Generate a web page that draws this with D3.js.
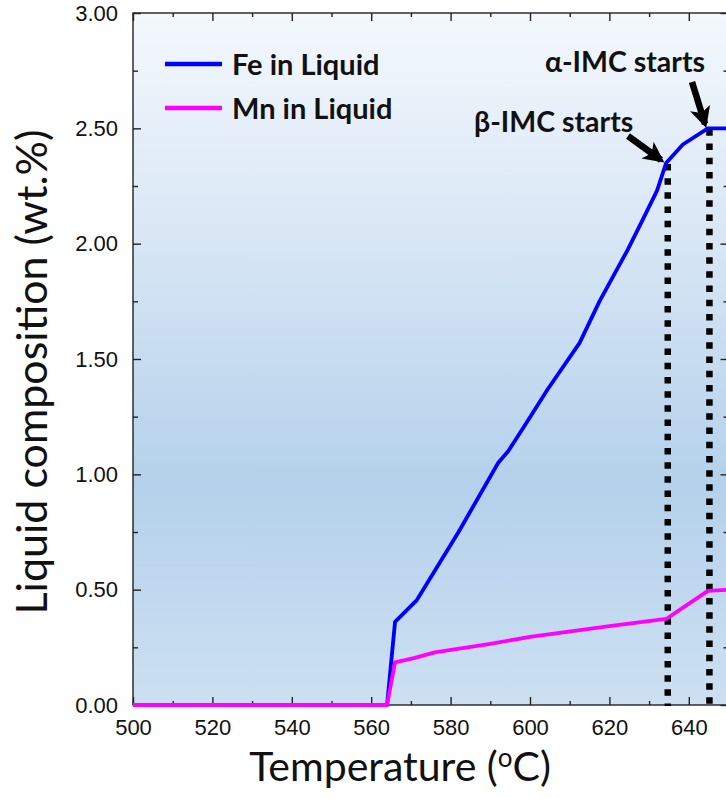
<!DOCTYPE html>
<html lang="en">
<head>
<meta charset="UTF-8">
<title>Liquid composition</title>
<style>
  body { margin: 0; background: #fff; }
  svg { display: block; }
  .axis path, .axis line { stroke: #222; stroke-width: 1.4px; }
</style>
</head>
<body>
<svg width="726" height="798"></svg>
<script src="https://d3js.org/d3.v7.min.js"></script>
<script>
// temperature (C) / wt.%
var feTemp = [500, 564, 566, 571.5, 582, 592, 594.5, 599, 604.5, 612.5, 617.5, 624.5, 628, 632, 634.3, 638.5, 644.8, 650];
var feVal  = [0, 0, 0.36, 0.455, 0.75, 1.05, 1.10, 1.22, 1.37, 1.57, 1.75, 1.97, 2.09, 2.23, 2.35, 2.43, 2.50, 2.50];
var mnTemp = [500, 564, 566, 571, 576, 590, 600, 620, 634.3, 644.8, 650];
var mnVal  = [0, 0, 0.185, 0.204, 0.228, 0.265, 0.295, 0.342, 0.373, 0.495, 0.50];
var xTicks = [500, 520, 540, 560, 580, 600, 620, 640];
var yTicks = [0, 0.5, 1.0, 1.5, 2.0, 2.5, 3.0];
var seriesNames = ["Fe in Liquid", "Mn in Liquid"];
var seriesColors = ["#0000ff", "#ff00ff"];
var markers = [
  { name: "\u03b2-IMC starts", temp: 634.7, value: 2.35 },
  { name: "\u03b1-IMC starts", temp: 645.2, value: 2.50 }
];

var pLeft = 133, pRight = 728.5, pTop = 13, pBottom = 705;
var svg = d3.select("svg");

var x = d3.scaleLinear().domain([500, 650]).range([pLeft, pRight]);
var y = d3.scaleLinear().domain([0, 3]).range([pBottom, pTop]);

// background gradient
var defs = svg.append("defs");
var grad = defs.append("linearGradient").attr("id", "bg")
  .attr("x1", 0).attr("y1", 0).attr("x2", 0).attr("y2", 1);
grad.append("stop").attr("offset", "0%").attr("stop-color", "#f4f8fd");
grad.append("stop").attr("offset", "35%").attr("stop-color", "#d6e5f4");
grad.append("stop").attr("offset", "68%").attr("stop-color", "#b4d1eb");
grad.append("stop").attr("offset", "100%").attr("stop-color", "#cde0f2");

var mk = defs.append("marker").attr("id", "arr")
  .attr("viewBox", "0 0 10 10").attr("refX", 8).attr("refY", 5)
  .attr("markerWidth", 3.2).attr("markerHeight", 3.2)
  .attr("markerUnits", "strokeWidth").attr("orient", "auto");
mk.append("path").attr("d", "M0,0 L10,5 L0,10 L2.5,5 Z").attr("fill", "#000");

svg.append("rect")
  .attr("x", pLeft).attr("y", pTop)
  .attr("width", pRight - pLeft).attr("height", pBottom - pTop)
  .attr("fill", "url(#bg)");

// axes: major + minor ticks, all pointing inward
var minorX = d3.range(510, 650, 20);
var minorY = d3.range(0.25, 3, 0.5);

function noDomain(g) { g.select(".domain").remove(); }
function tickFont(g) {
  g.selectAll("text")
    .attr("font-family", "'Liberation Sans', Arial, sans-serif")
    .attr("font-size", 22).attr("fill", "#111");
}

svg.append("g").attr("class", "axis").attr("transform", "translate(0," + pBottom + ")")
  .call(d3.axisBottom(x).tickValues(xTicks).tickSize(-8).tickPadding(14).tickFormat(d3.format("d")))
  .call(noDomain).call(tickFont);
svg.append("g").attr("class", "axis").attr("transform", "translate(0," + pBottom + ")")
  .call(d3.axisBottom(x).tickValues(minorX).tickSize(-4).tickFormat(""))
  .call(noDomain);
svg.append("g").attr("class", "axis").attr("transform", "translate(0," + pTop + ")")
  .call(d3.axisTop(x).tickValues(xTicks).tickSize(-8).tickFormat(""))
  .call(noDomain);
svg.append("g").attr("class", "axis").attr("transform", "translate(0," + pTop + ")")
  .call(d3.axisTop(x).tickValues(minorX).tickSize(-4).tickFormat(""))
  .call(noDomain);

svg.append("g").attr("class", "axis").attr("transform", "translate(" + pLeft + ",0)")
  .call(d3.axisLeft(y).tickValues(yTicks).tickSize(-8).tickPadding(15).tickFormat(d3.format(".2f")))
  .call(noDomain).call(tickFont);
svg.append("g").attr("class", "axis").attr("transform", "translate(" + pLeft + ",0)")
  .call(d3.axisLeft(y).tickValues(minorY).tickSize(-5).tickFormat(""))
  .call(noDomain);
svg.append("g").attr("class", "axis").attr("transform", "translate(" + pRight + ",0)")
  .call(d3.axisRight(y).tickValues(yTicks).tickSize(-8).tickFormat(""))
  .call(noDomain);
svg.append("g").attr("class", "axis").attr("transform", "translate(" + pRight + ",0)")
  .call(d3.axisRight(y).tickValues(minorY).tickSize(-5).tickFormat(""))
  .call(noDomain);

svg.append("rect")
  .attr("x", pLeft).attr("y", pTop)
  .attr("width", pRight - pLeft).attr("height", pBottom - pTop)
  .attr("fill", "none").attr("stroke", "#222").attr("stroke-width", 1.4);

// dotted marker lines
svg.selectAll(".vline").data(markers).enter().append("line")
  .attr("class", "vline")
  .attr("x1", function(d) { return x(d.temp); })
  .attr("x2", function(d) { return x(d.temp); })
  .attr("y1", function(d) { return y(d.value) + 1; })
  .attr("y2", pBottom + 1)
  .attr("stroke", "#000").attr("stroke-width", 6.5)
  .attr("stroke-dasharray", "6.5 7.7");

// series
var line = d3.line().x(function(d) { return x(d[0]); }).y(function(d) { return y(d[1]); });
var series = [d3.zip(feTemp, feVal), d3.zip(mnTemp, mnVal)];
svg.selectAll(".series").data(series).enter().append("path")
  .attr("class", "series")
  .attr("d", line)
  .attr("fill", "none")
  .attr("stroke", function(d, i) { return seriesColors[i]; })
  .attr("stroke-width", 3.8)
  .attr("stroke-linejoin", "round");

// legend
var legend = svg.selectAll(".legend").data(seriesNames).enter().append("g")
  .attr("class", "legend")
  .attr("transform", function(d, i) { return "translate(165," + (64 + i * 44) + ")"; });
legend.append("line").attr("x1", 0).attr("x2", 57)
  .attr("stroke", function(d, i) { return seriesColors[i]; }).attr("stroke-width", 4.5);
legend.append("text").attr("x", 67).attr("y", 11)
  .style("font-family", "Lato, 'Open Sans', sans-serif").style("font-weight", "bold")
  .style("font-size", "29px").attr("fill", "#111")
  .text(function(d) { return d; });

// annotations
var labelPos = [[474, 132], [545, 72]];
var arrowPos = [[[628, 136], [661, 160]], [[692, 82], [705, 124]]];
markers.forEach(function(m, i) {
  svg.append("text").attr("x", labelPos[i][0]).attr("y", labelPos[i][1])
    .style("font-family", "Lato, 'Open Sans', sans-serif").style("font-weight", "bold")
    .style("font-size", "28.5px").attr("fill", "#111").text(m.name);
  svg.append("line")
    .attr("x1", arrowPos[i][0][0]).attr("y1", arrowPos[i][0][1])
    .attr("x2", arrowPos[i][1][0]).attr("y2", arrowPos[i][1][1])
    .attr("stroke", "#000").attr("stroke-width", 6.5)
    .attr("marker-end", "url(#arr)");
});

// axis titles
svg.append("text")
  .attr("transform", "translate(47,372) rotate(-90)")
  .attr("text-anchor", "middle")
  .style("font-family", "Lato, 'Open Sans', sans-serif").style("font-size", "43px").attr("fill", "#111")
  .text("Liquid composition (wt.%)");

var xt = svg.append("text")
  .attr("x", 400).attr("y", 781)
  .attr("text-anchor", "middle")
  .style("font-family", "Lato, 'Open Sans', sans-serif").style("font-size", "41px").attr("fill", "#111");
xt.append("tspan").text("Temperature (");
xt.append("tspan").attr("dy", -14).style("font-size", "26px").text("o");
xt.append("tspan").attr("dy", 14).text("C)");
</script>
</body>
</html>
